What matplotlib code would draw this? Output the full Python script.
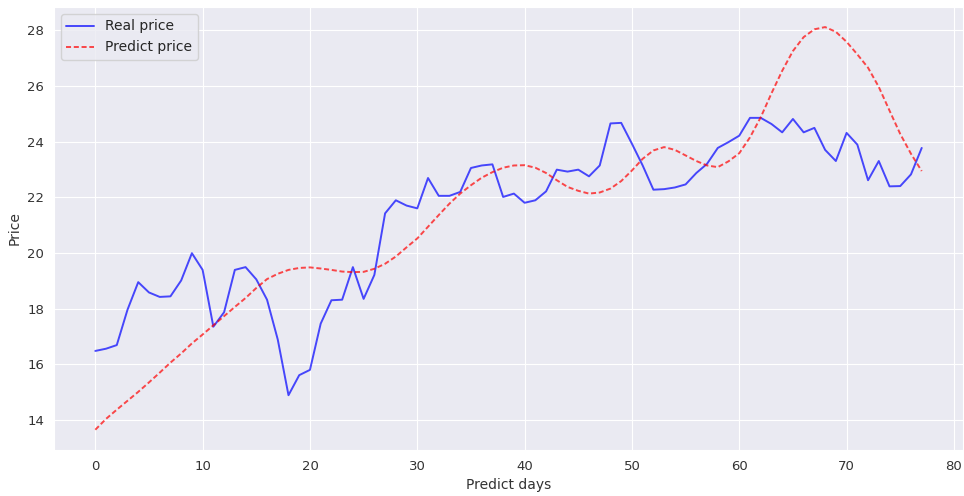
import matplotlib
matplotlib.use('Agg')
import matplotlib.pyplot as plt
import seaborn as sns

days = list(range(78))

real_price = [16.48, 16.56, 16.69, 17.96, 18.95, 18.58, 18.42, 18.44, 19.01, 19.99,
              19.39, 17.35, 17.87, 19.39, 19.49, 19.05, 18.32, 16.89, 14.89, 15.61,
              15.80, 17.46, 18.30, 18.32, 19.49, 18.35, 19.21, 21.42, 21.89, 21.70,
              21.60, 22.69, 22.05, 22.05, 22.19, 23.05, 23.14, 23.18, 22.01, 22.13,
              21.80, 21.89, 22.21, 22.99, 22.92, 22.99, 22.75, 23.14, 24.65, 24.67,
              23.92, 23.14, 22.27, 22.29, 22.35, 22.46, 22.87, 23.20, 23.77, 23.98,
              24.21, 24.85, 24.85, 24.63, 24.33, 24.81, 24.33, 24.49, 23.70, 23.30,
              24.31, 23.89, 22.61, 23.30, 22.39, 22.40, 22.82, 23.77]

predict_price = [13.65, 14.04, 14.37, 14.69, 15.01, 15.35, 15.70, 16.06, 16.39, 16.75,
                 17.07, 17.40, 17.73, 18.06, 18.38, 18.74, 19.06, 19.25, 19.39, 19.46,
                 19.48, 19.44, 19.39, 19.33, 19.31, 19.32, 19.43, 19.61, 19.87, 20.20,
                 20.52, 20.94, 21.36, 21.77, 22.13, 22.43, 22.70, 22.90, 23.06, 23.14,
                 23.15, 23.06, 22.87, 22.61, 22.37, 22.23, 22.13, 22.17, 22.31, 22.58,
                 22.96, 23.38, 23.68, 23.80, 23.70, 23.50, 23.30, 23.14, 23.08, 23.29,
                 23.58, 24.15, 24.87, 25.73, 26.54, 27.25, 27.75, 28.03, 28.11, 27.94,
                 27.58, 27.13, 26.65, 25.96, 25.11, 24.27, 23.56, 22.94]

sns.set_style('darkgrid')
plt.rcParams['font.family'] = ['DejaVu Sans']

fig, ax = plt.subplots(figsize=(9.64, 4.96), dpi=100)
fig.subplots_adjust(left=0.056, right=0.999, top=0.986, bottom=0.093)

ax.plot(days, real_price, color='blue', alpha=0.7, linewidth=1.4, label='Real price')
ax.plot(days, predict_price, color='red', alpha=0.7, linewidth=1.4,
        linestyle=(0, (2.6, 1.4)), label='Predict price')

ax.set_xlabel('Predict days', fontsize=10, color='#333333')
ax.set_ylabel('Price', fontsize=10, color='#333333')
ax.tick_params(labelsize=9.5, colors='#333333')
ax.legend(loc='upper left', fontsize=10)

fig.savefig('out.png', dpi=100)
